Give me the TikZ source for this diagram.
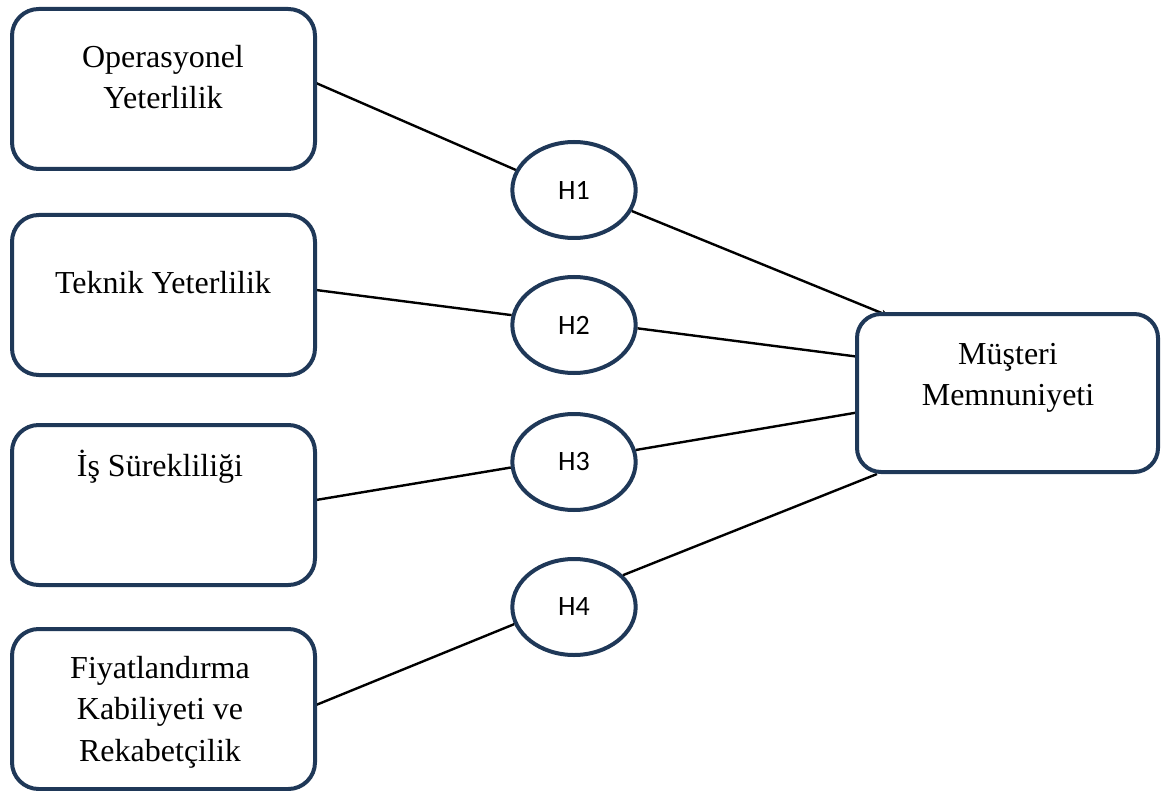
\documentclass[tikz,border=0pt]{standalone}
\usepackage{fontspec}
\setmainfont{Liberation Serif}
\newfontfamily\hfont{Carlito}
\usetikzlibrary{shapes.geometric,arrows.meta}
\definecolor{navy}{RGB}{31,56,88}
\begin{document}
\begin{tikzpicture}[x=0.75pt,y=-0.75pt,
  box/.style={draw=navy,fill=white,line width=3pt,rounded corners=20pt,
    minimum width=227.25pt,minimum height=120pt,inner sep=0pt},
  rbox/.style={box,minimum width=225.75pt,minimum height=118.5pt,rounded corners=18pt},
  lbl/.style={font=\fontsize{24}{31}\selectfont,align=center,inner sep=0pt},
  hyp/.style={ellipse,draw=navy,fill=white,line width=3pt,minimum width=92.5pt,
    minimum height=72pt,inner sep=0pt,font=\hfont\fontsize{21}{25}\selectfont},
  link/.style={draw=black,line width=1.8pt}]
\useasboundingbox (0,0) rectangle (1162,791);
% hypothesis ellipses
\node[hyp] (h1) at (574,190) {H1};
\node[hyp] (h2) at (574,325) {H2};
\node[hyp] (h3) at (574,462) {H3};
\node[hyp] (h4) at (574,607) {H4};
% connector end points
\coordinate (s1) at (316,83);
\coordinate (s2) at (316,290);
\coordinate (s3) at (316,500);
\coordinate (s4) at (316,705);
\coordinate (t1) at (889,316);
\coordinate (t2) at (860,357);
\coordinate (t3) at (860,412);
\coordinate (t4) at (877,474);
% connectors
\draw[link] (s1) -- (h1.161);
\draw[link,-{Stealth[length=6pt,width=5pt]}] (h1.340) -- (t1);
\draw[link] (s2) -- (h2.171);
\draw[link] (h2.357) -- (t2);
\draw[link] (s3) -- (h3.185);
\draw[link] (h3.11) -- (t3);
\draw[link] (s4) -- (h4.196);
\draw[link] (h4.33) -- (t4);
% boxes
\node[box] (b1) at (163.5,89) {};
\node[box] (b2) at (163.5,295) {};
\node[box] (b3) at (163.5,505) {};
\node[box] (b4) at (163.5,709) {};
\node[rbox] (r) at (1007.5,393) {};
% box texts
\node[lbl] (l1) at (163,77) {Operasyonel\\Yeterlilik};
\node[lbl] (l2) at (163,283) {Teknik Yeterlilik};
\node[lbl] (l3) at (160,467) {İş Sürekliliği};
\node[lbl] (l4) at (160,712) {Fiyatlandırma\\Kabiliyeti ve\\Rekabetçilik};
\node[lbl] (lr) at (1008,378) {Müşteri\\Memnuniyeti};
\end{tikzpicture}
\end{document}
